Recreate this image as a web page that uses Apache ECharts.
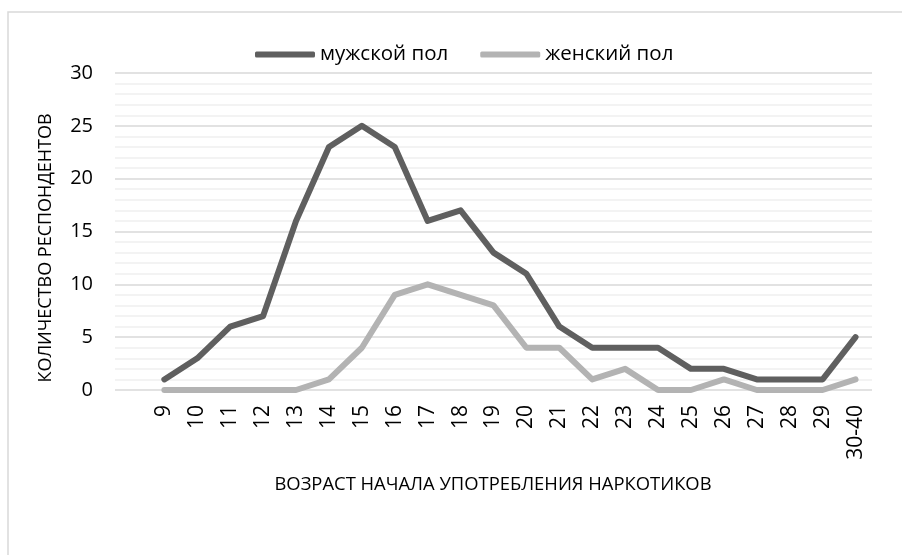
<!DOCTYPE html>
<html>
<head>
<meta charset="utf-8">
<script src="https://cdn.jsdelivr.net/npm/echarts@6/dist/echarts.min.js"></script>
<style>
html,body{margin:0;padding:0;background:#fff;}
#main{width:902px;height:555px;}
</style>
</head>
<body>
<div id="main"></div>
<script>
// возраст начала употребления (первая категория пустая, как в оригинале)
var ages = ['', '9', '10', '11', '12', '13', '14', '15', '16', '17', '18', '19', '20',
            '21', '22', '23', '24', '25', '26', '27', '28', '29', '30-40'];
var male = [null, 1, 3, 6, 7, 16, 23, 25, 23, 16, 17, 13, 11, 6, 4, 4, 4, 2, 2, 1, 1, 1, 5];
var female = [null, 0, 0, 0, 0, 0, 1, 4, 9, 10, 9, 8, 4, 4, 1, 2, 0, 0, 1, 0, 0, 0, 1];
var seriesNames = ['мужской пол', 'женский пол'];
var xTitle = 'ВОЗРАСТ НАЧАЛА УПОТРЕБЛЕНИЯ НАРКОТИКОВ';
var yTitle = 'КОЛИЧЕСТВО РЕСПОНДЕНТОВ';

var FONT = 'Open Sans';
var chart = echarts.init(document.getElementById('main'));

var option = {
    backgroundColor: '#fff',
    animation: false,
    textStyle: {fontFamily: FONT, color: '#000'},
    legend: {
        left: 250,
        top: 39,
        icon: 'roundRect',
        itemWidth: 60,
        itemHeight: 6,
        itemGap: 32,
        textStyle: {fontFamily: FONT, fontSize: 20.5, color: '#000'},
        data: seriesNames
    },
    grid: {left: 115, right: 30, top: 73, bottom: 165},
    xAxis: {
        type: 'category',
        data: ages,
        boundaryGap: true,
        axisLine: {show: false},
        axisTick: {show: false},
        axisLabel: {
            rotate: 90,
            interval: 0,
            margin: 15,
            fontFamily: FONT,
            fontSize: 21,
            color: '#000'
        }
    },
    yAxis: {
        type: 'value',
        min: 0,
        max: 30,
        interval: 5,
        axisLine: {show: false},
        axisTick: {show: false},
        axisLabel: {margin: 22, fontFamily: FONT, fontSize: 20, color: '#000'},
        splitLine: {lineStyle: {color: '#d9d9d9', width: 1.5}},
        minorTick: {show: false, splitNumber: 5},
        minorSplitLine: {show: true, lineStyle: {color: '#efefef', width: 1.5}}
    },
    graphic: [
        {
            type: 'rect',
            shape: {x: 8, y: 12, width: 1000, height: 1000},
            style: {fill: null, stroke: '#d9d9d9', lineWidth: 1.5},
            silent: true,
            z: -1
        },
        {
            type: 'text',
            x: 493,
            y: 485,
            style: {
                text: xTitle, fontFamily: FONT, fontSize: 18.4, fill: '#000',
                align: 'center', verticalAlign: 'middle'
            }
        },
        {
            type: 'text',
            x: 46,
            y: 248,
            rotation: Math.PI / 2,
            style: {
                text: yTitle, fontFamily: FONT, fontSize: 18, fill: '#000',
                align: 'center', verticalAlign: 'middle'
            }
        }
    ],
    series: [
        {
            name: seriesNames[0],
            type: 'line',
            data: male,
            symbol: 'none',
            color: '#5f5f5f',
            lineStyle: {width: 6, color: '#5f5f5f', cap: 'round', join: 'round'},
            z: 3
        },
        {
            name: seriesNames[1],
            type: 'line',
            data: female,
            symbol: 'none',
            color: '#b3b3b3',
            lineStyle: {width: 6, color: '#b3b3b3', cap: 'round', join: 'round'},
            z: 2
        }
    ]
};
chart.setOption(option);
</script>
</body>
</html>
